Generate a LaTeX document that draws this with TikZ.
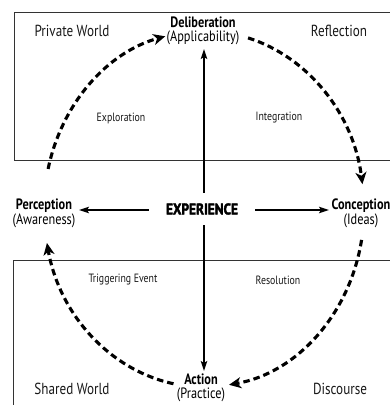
\documentclass[tikz,border=0pt]{standalone}
\usepackage{fontspec}
\setmainfont{PT Sans}[FakeStretch=0.82]
\newfontfamily\heavyfont{PT Sans}[FakeStretch=0.86, BoldFeatures={FakeBold=2.4}]
\usetikzlibrary{arrows.meta}
\tikzset{
  frame/.style={line width=0.9pt, draw=black!80},
  biglabel/.style={inner sep=0pt, text=black!90, font=\fontsize{16}{18}\selectfont},
  smalllabel/.style={inner sep=0pt, text=black!90, font=\fontsize{12}{14}\selectfont},
  stagebox/.style={inner sep=0pt, align=center, font=\fontsize{15}{13.5}\selectfont},
  cyclearc/.style={line width=3.1pt, dash pattern=on 6.5pt off 4pt, -{Stealth[length=12pt,width=11pt,inset=3.5pt]}},
  axtip/.tip={Stealth[length=10pt,width=6.5pt,inset=2pt]},
  axisarrow/.style={line width=1.6pt, -axtip}
}
\begin{document}
\begin{tikzpicture}[x=1pt,y=-1pt]
\useasboundingbox (0,0) rectangle (390,405);
\fill[white] (0,0) rectangle (390,405);
\clip (0,0) rectangle (390,405);
% regions
\draw[frame] (400,12) -- (14,12) -- (14,160) -- (400,160);
\draw[frame] (400,260) -- (13,260) -- (13,410);
% region labels
\node[biglabel] (pw) at (72,31) {Private World};
\node[biglabel] (rf) at (339,31) {Reflection};
\node[biglabel] (sw) at (72,389) {Shared World};
\node[biglabel] (dc) at (340,389) {Discourse};
\node[smalllabel] (ex) at (121,118) {Exploration};
\node[smalllabel] (ig) at (279,118) {Integration};
\node[smalllabel] (te) at (123,280) {Triggering Event};
\node[smalllabel] (rs) at (278,280) {Resolution};
% stages
\node[stagebox] (del) at (203,31) {\textbf{Deliberation}\\(Applicability)};
\node[stagebox] (per) at (44,213) {\textbf{Perception}\\(Awareness)};
\node[stagebox] (con) at (361,213) {\textbf{Conception}\\(Ideas)};
\node[stagebox] (act) at (201,388) {\textbf{Action}\\(Practice)};
% centre axis
\coordinate (axtop) at (204,49);
\coordinate (axbot) at (204,371);
\draw[line width=1.6pt, axtip-axtip] (axbot) -- (axtop);
\node[fill=white, minimum width=106pt, minimum height=32pt, inner sep=0pt,
      font=\heavyfont\bfseries\fontsize{15.5}{17}\selectfont] (exp) at (202,209) {EXPERIENCE};
\coordinate (pertip) at (79,210);
\coordinate (contip) at (329,210);
\draw[axisarrow] (exp.west |- pertip) -- (pertip);
\draw[axisarrow] (exp.east |- contip) -- (contip);
% cycle arcs on ellipse centred (204,209), radii 160 x 178
\coordinate (s1) at ({204+160*cos(-167)},{209+178*sin(-167)});
\coordinate (s2) at ({204+160*cos(-74)},{209+178*sin(-74)});
\coordinate (s3) at ({204+160*cos(10)},{209+178*sin(10)});
\coordinate (s4) at ({204+160*cos(101)},{209+178*sin(101)});
\draw[cyclearc] (s1) arc[start angle=-167, end angle=-104, x radius=160, y radius=178];
\draw[cyclearc] (s2) arc[start angle=-74, end angle=-8, x radius=160, y radius=178];
\draw[cyclearc] (s3) arc[start angle=10, end angle=81, x radius=160, y radius=178];
\draw[cyclearc] (s4) arc[start angle=101, end angle=169, x radius=160, y radius=178];
\end{tikzpicture}
\end{document}
